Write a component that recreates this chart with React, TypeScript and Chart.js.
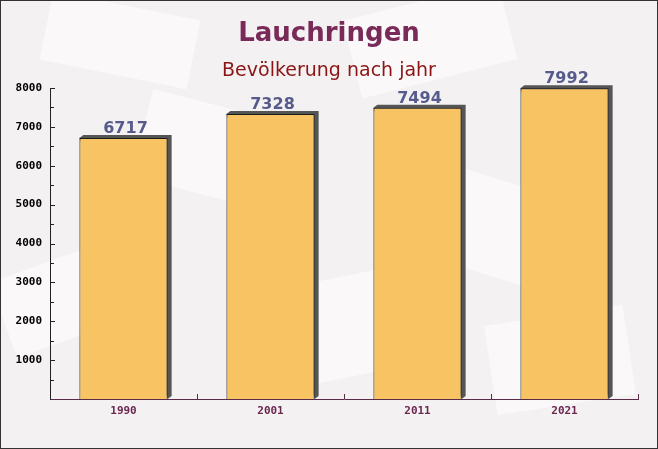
import React, { useEffect, useRef } from "react";
import { Chart, registerables } from "chart.js";

Chart.register(...registerables);

const categories = ["1990", "2001", "2011", "2021"];
const population = [6717, 7328, 7494, 7992];
const yTicks = [1000, 2000, 3000, 4000, 5000, 6000, 7000, 8000];
const titleText = "Lauchringen";
const subtitleText = "Bevölkerung nach jahr";

const W = 658;
const H = 449;

const decorPlugin = {
  id: "decor",
  beforeDraw(chart: any) {
    const ctx = chart.ctx;
    ctx.save();
    ctx.fillStyle = "#f4f1f2";
    ctx.fillRect(0, 0, W, H);
    // faint envelope-like shapes
    ctx.fillStyle = "rgba(255,255,255,0.5)";
    const shapes = [
      [60, 300, 120, 80, -0.35],
      [210, 150, 140, 90, 0.25],
      [330, 330, 160, 100, -0.2],
      [470, 220, 150, 95, 0.3],
      [560, 360, 140, 90, -0.15],
      [120, 40, 150, 70, 0.2],
      [430, 40, 160, 80, -0.25],
    ];
    for (const [x, y, w, h, r] of shapes) {
      ctx.save();
      ctx.translate(x, y);
      ctx.rotate(r);
      ctx.fillRect(-w / 2, -h / 2, w, h);
      ctx.restore();
    }
    ctx.restore();
  },
  beforeDatasetsDraw(chart: any) {
    const ctx = chart.ctx;
    const meta = chart.getDatasetMeta(0);
    ctx.save();
    ctx.fillStyle = "#555555";
    meta.data.forEach((bar: any) => {
      const left = bar.x - bar.width / 2;
      const right = bar.x + bar.width / 2;
      const top = bar.y;
      const base = bar.base;
      ctx.beginPath();
      ctx.moveTo(left, top);
      ctx.lineTo(left + 4, top - 3);
      ctx.lineTo(right + 4, top - 3);
      ctx.lineTo(right + 4, base - 3);
      ctx.lineTo(right, base);
      ctx.closePath();
      ctx.fill();
    });
    ctx.restore();
  },
  afterDatasetsDraw(chart: any) {
    const ctx = chart.ctx;
    const meta = chart.getDatasetMeta(0);
    ctx.save();
    ctx.font = "bold 16px 'DejaVu Sans'";
    ctx.fillStyle = "#575b8c";
    ctx.textAlign = "center";
    ctx.textBaseline = "alphabetic";
    meta.data.forEach((bar: any, i: number) => {
      ctx.fillText(String(population[i]), bar.x + 2, bar.y - 5);
    });
    ctx.restore();
  },
  afterDraw(chart: any) {
    const ctx = chart.ctx;
    const ca = chart.chartArea;
    const y = chart.scales.y;
    ctx.save();
    // titles
    ctx.textAlign = "center";
    ctx.textBaseline = "alphabetic";
    ctx.font = "bold 26px 'DejaVu Sans'";
    ctx.fillStyle = "#7a2a58";
    ctx.fillText(titleText, W / 2, 41);
    ctx.font = "19px 'DejaVu Sans'";
    ctx.fillStyle = "#8b1414";
    ctx.fillText(subtitleText, W / 2, 76);
    // y ticks
    ctx.strokeStyle = "#222222";
    ctx.lineWidth = 1;
    for (let v = 500; v <= 8000; v += 500) {
      const py = Math.round(y.getPixelForValue(v)) + 0.5;
      const major = v % 1000 === 0;
      ctx.beginPath();
      ctx.moveTo(ca.left, py);
      ctx.lineTo(ca.left + (major ? 5 : 4), py);
      ctx.stroke();
    }
    // x ticks at category boundaries
    ctx.strokeStyle = "#5a2a48";
    const step = (ca.right - ca.left) / categories.length;
    for (let i = 1; i <= categories.length; i++) {
      const px = Math.round(ca.left + step * i) + 0.5;
      ctx.beginPath();
      ctx.moveTo(px, ca.bottom);
      ctx.lineTo(px, ca.bottom - 5);
      ctx.stroke();
    }
    // outer frame
    ctx.strokeStyle = "#333333";
    ctx.strokeRect(0.5, 0.5, W - 1, H - 1);
    ctx.restore();
  },
};

export default function App() {
  const ref = useRef<HTMLCanvasElement | null>(null);
  useEffect(() => {
    document.body.style.margin = "0";
    const chart = new Chart(ref.current as HTMLCanvasElement, {
      type: "bar",
      data: {
        labels: categories,
        datasets: [
          {
            data: population,
            backgroundColor: "#f8c363",
            borderColor: "#1a1a1a",
            borderWidth: 1,
            borderSkipped: "bottom",
            barPercentage: 0.6,
            categoryPercentage: 1,
          },
        ],
      },
      options: {
        responsive: false,
        animation: false,
        layout: { padding: { top: 88, right: 20, left: 0, bottom: 0 } },
        plugins: {
          legend: { display: false },
          title: { display: false },
          tooltip: { enabled: false },
        },
        scales: {
          x: {
            grid: { display: false, drawTicks: false },
            border: { display: true, color: "#5a2a48", width: 1 },
            ticks: {
              color: "#6b2750",
              font: { family: "'DejaVu Sans Mono'", size: 11, weight: "bold" },
              padding: 6,
            },
            afterFit(scale: any) {
              scale.height = 50;
            },
          },
          y: {
            min: 0,
            max: 8000,
            afterBuildTicks(scale: any) {
              scale.ticks = yTicks.map((v) => ({ value: v }));
            },
            grid: { display: false, drawTicks: false },
            border: { display: true, color: "#222222", width: 1 },
            ticks: {
              color: "#000000",
              font: { family: "'DejaVu Sans Mono'", size: 11, weight: "bold" },
              padding: 8,
              callback: (v: any) => String(v),
            },
            afterFit(scale: any) {
              scale.width = 50;
            },
          },
        },
      },
      plugins: [decorPlugin],
    });
    return () => chart.destroy();
  }, []);
  return (
    <div style={{ width: W, height: H }}>
      <canvas ref={ref} width={W} height={H} style={{ display: "block" }} />
    </div>
  );
}
